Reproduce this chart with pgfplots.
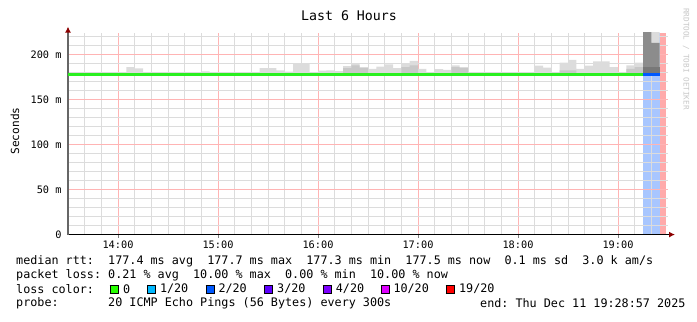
\documentclass[border=0pt]{standalone}
\usepackage{fontspec}
\setmonofont{DejaVu Sans Mono}
\usepackage{pgfplots}
\pgfplotsset{compat=1.18}
\usepackage{pgfplotstable}
\usepgfplotslibrary{fillbetween}
\usetikzlibrary{arrows.meta}
\definecolor{minorgrid}{HTML}{DCDCDC}
\definecolor{majorgrid}{HTML}{FFB4B4}
\definecolor{smoke}{HTML}{DCDCDC}
\definecolor{midsmoke}{HTML}{C8C8C8}
\definecolor{darksmoke}{HTML}{8C8C8C}
\definecolor{darkersmoke}{HTML}{787878}
\definecolor{lossA}{HTML}{26FF00}
\definecolor{lossB}{HTML}{00B8FF}
\definecolor{lossC}{HTML}{0059FF}
\definecolor{lossD}{HTML}{5E00FF}
\definecolor{lossE}{HTML}{7E00FF}
\definecolor{lossF}{HTML}{DD00FF}
\definecolor{lossG}{HTML}{FF0000}
\definecolor{bgblue}{HTML}{A8C6FF}
\definecolor{bgred}{HTML}{FFAAAA}
\definecolor{medgreen}{HTML}{2AF020}
\pgfplotstableread{
t v
13.5000 179
13.5833 180.5
13.6667 180.5
13.7500 178.6
13.8333 178.6
13.9167 178.8
14.0000 179.5
14.0833 186
14.1667 184.5
14.2500 178.8
14.3333 178.6
14.4167 178.6
14.5000 178.8
14.5833 180
14.6667 180
14.7500 180.6
14.8333 181.2
14.9167 178.8
15.0000 178.6
15.0833 178.6
15.1667 178.6
15.2500 178.6
15.3333 178.6
15.4167 185
15.5000 185
15.5833 182.5
15.6667 181
15.7500 190.5
15.8333 190.5
15.9167 178.6
16.0000 182
16.0833 182.5
16.1667 181.7
16.2500 187
16.3333 190.5
16.4167 186
16.5000 184
16.5833 186.6
16.6667 189
16.7500 184.8
16.8333 190
16.9167 193
17.0000 184
17.0833 179.6
17.1667 183.7
17.2500 183
17.3333 188
17.4167 186
17.5000 180.5
17.5833 180.5
17.6667 180.2
17.7500 180
17.8333 178.6
17.9167 179.5
18.0000 179.8
18.0833 179.8
18.1667 187.6
18.2500 185.5
18.3333 179
18.4167 191
18.5000 194
18.5833 184
18.6667 187.7
18.7500 192.5
18.8333 192.5
18.9167 186
19.0000 179
19.0833 188
19.1667 191
19.2500 230
19.3333 230
19.4167 230
}\smoketable
\pgfplotstableread{
t v
16.2500 185
16.3333 188
16.4167 185
16.5000 177
16.8333 186
16.9167 188
17.0000 177
17.3333 186
17.4167 185
17.5000 177
18.4167 182.5
18.5833 177
19.0833 184
19.1667 186
19.2500 177
}\midtable
\newcommand\lbox[1]{{\setlength\fboxsep{0pt}\setlength\fboxrule{1bp}\fcolorbox{black}{#1}{\rule{0pt}{7bp}\rule{7bp}{0pt}}}}
\newcommand\lgf{\fontsize{11.8}{14}\selectfont\ttfamily}
\begin{document}
\begin{tikzpicture}[x=1bp,y=1bp]
\path (0,0) rectangle (697,321);
\begin{axis}[
  at={(68,96)}, anchor=south west,
  scale only axis, width=600bp, height=202bp,
  xmin=13.5, xmax=19.5, ymin=0, ymax=224.4,
  set layers,
  axis x line=bottom, axis y line=left,
  x axis line style={draw=black, line width=1.2bp, -{Latex[length=6bp,width=6bp,color=red!55!black]}, shorten >=-7bp},
  y axis line style={draw=black!60, line width=1.2bp, -{Latex[length=6bp,width=6bp,color=red!55!black]}, shorten >=-6bp},
  xtick={14,15,16,17,18,19},
  xticklabels={14:00,15:00,16:00,17:00,18:00,19:00},
  ytick={0,50,100,150,200},
  yticklabels={0,50 m,100 m,150 m,200 m},
  minor xtick={13.5,13.6667,13.8333,14.1667,14.3333,14.5,14.6667,14.8333,15.1667,15.3333,15.5,15.6667,15.8333,16.1667,16.3333,16.5,16.6667,16.8333,17.1667,17.3333,17.5,17.6667,17.8333,18.1667,18.3333,18.5,18.6667,18.8333,19.1667,19.3333},
  minor ytick={10,20,30,40,60,70,80,90,110,120,130,140,160,170,180,190,210,220},
  grid=both,
  major grid style={draw=majorgrid, line width=1bp},
  minor grid style={draw=minorgrid, line width=1bp},
  tick align=outside,
  major tick length=3bp, minor tick length=0pt,
  xtick style={draw=black!50, line width=1bp},
  ytick style={draw=none},
  tick label style={font=\fontsize{10.3}{12}\selectfont\ttfamily},
]
% loss backgrounds
\addplot[on layer=axis background, fill=bgblue, draw=none] coordinates {(19.25,224.4) (19.4167,224.4)} \closedcycle;
\addplot[on layer=axis background, fill=bgred, draw=none] coordinates {(19.4167,224.4) (19.48,224.4)} \closedcycle;
% smoke
\addplot[name path=smax, draw=none, const plot] table[x=t,y=v] {\smoketable};
\addplot[name path=sbase, draw=none] coordinates {(13.5,177) (19.4167,177)};
\addplot[fill=smoke, draw=none] fill between[of=smax and sbase];
\addplot[name path=smid, draw=none, const plot] table[x=t,y=v] {\midtable};
\addplot[name path=mbase, draw=none] coordinates {(16.25,177) (19.25,177)};
\addplot[fill=midsmoke, draw=none] fill between[of=smid and mbase];
\addplot[name path=dtop, draw=none, const plot] coordinates {(19.25,230) (19.3333,213) (19.4167,213)};
\addplot[name path=dbot, draw=none] coordinates {(19.25,179) (19.4167,179)};
\addplot[fill=darksmoke, draw=none] fill between[of=dtop and dbot];
\addplot[name path=dband, draw=none] coordinates {(19.25,186) (19.4167,186)};
\addplot[fill=darkersmoke, draw=none] fill between[of=dband and dbot];
% median
\addplot[medgreen, line width=3bp] coordinates {(13.5,177.8) (19.25,177.8)};
\addplot[lossC, line width=3bp] coordinates {(19.25,177.8) (19.4167,177.8)};
\end{axis}
\node[font=\fontsize{13.3}{15}\selectfont\ttfamily] at (349,305) {Last 6 Hours};
\node[font=\fontsize{11.2}{13}\selectfont\ttfamily, rotate=90] at (15,190) {Seconds};
\node[font=\fontsize{7.7}{9}\selectfont\ttfamily, rotate=-90, text=black!22] at (686,262) {RRDTOOL / TOBI OETIKER};
\node[anchor=west, inner sep=0, font=\lgf] at (16,60) {median rtt:~~177.4 ms avg~~177.7 ms max~~177.3 ms min~~177.5 ms now~~0.1 ms sd~~3.0 k am/s};
\node[anchor=west, inner sep=0, font=\lgf] at (16,46) {packet loss:~0.21 \% avg~~10.00 \% max~~0.00 \% min~~10.00 \% now};
\node[anchor=west, inner sep=0, font=\lgf] at (16,32) {loss color:};
\node[anchor=west, inner sep=0] at (109.4,32) {\lbox{lossA}};
\node[anchor=west, inner sep=0, font=\lgf] at (122.8,32) {0};
\node[anchor=west, inner sep=0] at (146.9,32) {\lbox{lossB}};
\node[anchor=west, inner sep=0, font=\lgf] at (159.8,32) {1/20};
\node[anchor=west, inner sep=0] at (205.4,32) {\lbox{lossC}};
\node[anchor=west, inner sep=0, font=\lgf] at (218.3,32) {2/20};
\node[anchor=west, inner sep=0] at (263.8,32) {\lbox{lossD}};
\node[anchor=west, inner sep=0, font=\lgf] at (277,32) {3/20};
\node[anchor=west, inner sep=0] at (322.3,32) {\lbox{lossE}};
\node[anchor=west, inner sep=0, font=\lgf] at (335.7,32) {4/20};
\node[anchor=west, inner sep=0] at (380.4,32) {\lbox{lossF}};
\node[anchor=west, inner sep=0, font=\lgf] at (393.3,32) {10/20};
\node[anchor=west, inner sep=0] at (445.5,32) {\lbox{lossG}};
\node[anchor=west, inner sep=0, font=\lgf] at (458.9,32) {19/20};
\node[anchor=west, inner sep=0, font=\lgf] at (16,18) {probe:~~~~~~~20 ICMP Echo Pings (56 Bytes) every 300s};
\node[anchor=west, inner sep=0, font=\lgf] at (480,18) {end: Thu Dec 11 19:28:57 2025};
\end{tikzpicture}
\end{document}
